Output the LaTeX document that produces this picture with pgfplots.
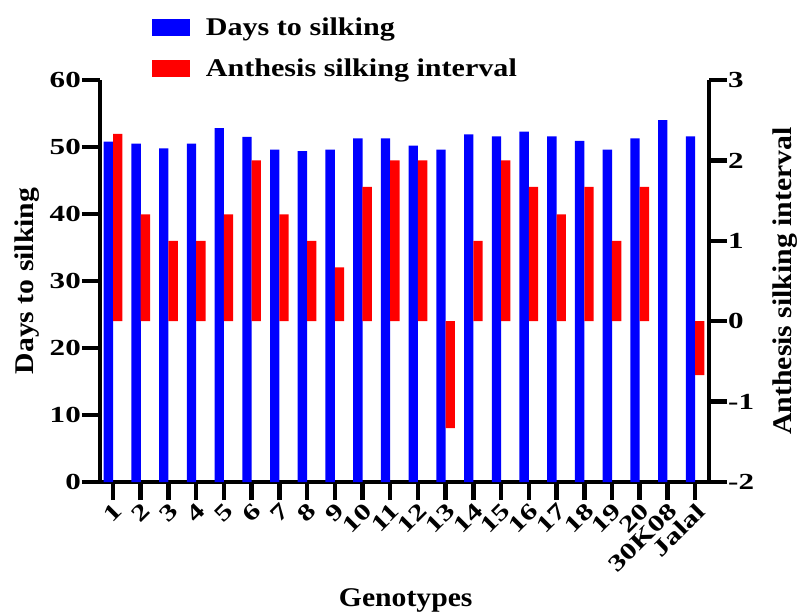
\documentclass[border=0pt]{standalone}
\usepackage{fontspec}
\setmainfont{Liberation Serif}
\newfontfamily\tickfont[FakeStretch=1.35]{Liberation Serif}
\newfontfamily\labfont[FakeStretch=1.1]{Liberation Serif}
\newfontfamily\legfont[FakeStretch=1.18]{Liberation Serif}
\usepackage{pgfplots}
\usepackage{pgfplotstable}
\pgfplotsset{compat=1.18}

% genotype index, days to silking, anthesis silking interval
\pgfplotstableread{
x dts asi
0 50.8 2.33
1 50.5 1.33
2 49.8 1.00
3 50.5 1.00
4 52.8 1.33
5 51.5 2.00
6 49.6 1.33
7 49.4 1.00
8 49.6 0.67
9 51.3 1.67
10 51.3 2.00
11 50.2 2.00
12 49.6 -1.33
13 51.9 1.00
14 51.6 2.00
15 52.3 1.67
16 51.6 1.33
17 50.9 1.67
18 49.6 1.00
19 51.3 1.67
20 54.0 nan
21 51.6 -0.67
}\geno

\pgfplotsset{
  legbox/.style={legend image code/.code={\fill[##1] (0pt,-8.5pt) rectangle (38pt,8.5pt);}},
  base/.style={
    scale only axis, width=609pt, height=402pt,
    at={(0,0)}, anchor=south west,
    xmin=-0.47, xmax=21.5,
    axis line style={line width=4.5pt, -},
    major tick length=18pt,
    tick style={line width=4.5pt, black},
    tick align=outside,
    /pgf/number format/assume math mode=true,
    ybar, bar width=0.337,
  },
}

\begin{document}
\begin{tikzpicture}
\begin{axis}[base,
  axis x line*=bottom, axis y line*=left,
  ymin=0, ymax=60, ytick={0,10,...,60},
  xtick={0,...,21},
  xticklabels={1,2,3,4,5,6,7,8,9,10,11,12,13,14,15,16,17,18,19,20,30K08,Jalal},
  x tick label style={font=\fontsize{23}{23}\tickfont\bfseries, rotate=45, anchor=north east, inner sep=1pt},
  y tick label style={font=\fontsize{23}{23}\tickfont\bfseries, inner sep=1pt},
  ylabel={Days to silking},
  xlabel={Genotypes},
  every axis y label/.style={at={(axis description cs:-0.119,0.5)}, rotate=90, anchor=center, font=\fontsize{27}{27}\labfont\bfseries},
  every axis x label/.style={at={(axis description cs:0.502,-0.295)}, anchor=center, font=\fontsize{27}{27}\labfont\bfseries},
]
\addplot[fill=blue, draw=none, bar shift=-0.168] table[x=x, y=dts] {\geno};
\end{axis}
\begin{axis}[base,
  axis x line=none, axis y line*=right,
  ymin=-2, ymax=3, ytick={-2,-1,...,3},
  y tick label style={font=\fontsize{23}{23}\tickfont\bfseries, inner sep=1pt},
  ylabel={Anthesis silking interval},
  every axis y label/.style={at={(axis description cs:1.125,0.5)}, rotate=90, anchor=center, font=\fontsize{27}{27}\labfont\bfseries},
  legend style={draw=none, fill=none, at={(axis description cs:0.08,1.165)}, anchor=north west,
    font=\fontsize{25.5}{25.5}\legfont\bfseries, row sep=18pt,
    /tikz/every odd column/.append style={column sep=14pt}},
  legend cell align=left,
]
\addlegendimage{legbox, fill=blue, draw=none}
\addlegendentry{Days to silking}
\addplot[legbox, fill=red, draw=none, bar shift=0.168] table[x=x, y=asi] {\geno};
\addlegendentry{Anthesis silking interval}
\end{axis}
\pgfresetboundingbox
\useasboundingbox (-100pt,-132pt) rectangle (705pt,482pt);
\end{tikzpicture}
\end{document}
